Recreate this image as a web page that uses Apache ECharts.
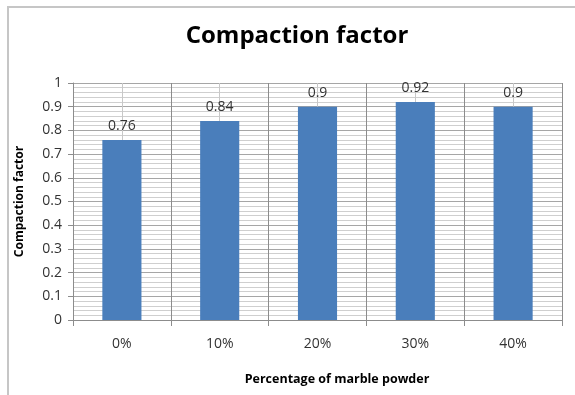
<!DOCTYPE html>
<html>
<head>
<meta charset="utf-8">
<script src="https://cdn.jsdelivr.net/npm/echarts@6/dist/echarts.min.js"></script>
<style>
  html, body { margin: 0; padding: 0; background: #ffffff; overflow: hidden; }
  #chart { position: absolute; left: 0; top: 0; width: 575px; height: 395px; }
</style>
</head>
<body>
<div id="chart"></div>
<script>
// Compaction factor for each marble powder replacement level
const categories = ['0%', '10%', '20%', '30%', '40%'];
const compactionFactor = [0.76, 0.84, 0.9, 0.92, 0.9];
const yTicks = [0, 0.1, 0.2, 0.3, 0.4, 0.5, 0.6, 0.7, 0.8, 0.9, 1];

const FONT = '"Open Sans", "Liberation Sans", sans-serif';

const chart = echarts.init(document.getElementById('chart'), null, { renderer: 'canvas' });

chart.setOption({
  animation: false,
  // chart-area border along the top and left edges
  graphic: [
    { type: 'polyline', silent: true, z: -1,
      shape: { points: [[8, 400], [8, 7], [580, 7]] },
      style: { stroke: '#c6c6c6', lineWidth: 2, fill: null } }
  ],
  title: [
    {
      text: 'Compaction factor',
      left: 292, top: 19, textAlign: 'center',
      textStyle: { fontFamily: FONT, fontSize: 24, fontWeight: 'bold', color: '#000' }
    },
    {
      text: 'Percentage of marble powder',
      left: 332, top: 368, textAlign: 'center',
      textStyle: { fontFamily: FONT, fontSize: 12.5, fontWeight: 'bold', color: '#000' }
    }
  ],
  grid: { left: 73, right: 13, top: 83, bottom: 75, containLabel: false },
  xAxis: [
    {
      type: 'category',
      data: categories,
      axisLine: { show: true, lineStyle: { color: '#8c8c8c', width: 1 } },
      axisTick: { show: true, length: 6, lineStyle: { color: '#8c8c8c' } },
      axisLabel: { fontFamily: FONT, fontSize: 14, color: '#333', margin: 17 },
      splitLine: { show: true, lineStyle: { color: '#8c8c8c', width: 1 } }
    },
    {
      // helper axis: thin lines through the centre of each category
      type: 'value',
      min: 0, max: 5, interval: 1,
      show: true,
      axisLine: { show: false }, axisTick: { show: false }, axisLabel: { show: false },
      splitLine: { show: false },
      minorTick: { show: false, splitNumber: 2 },
      minorSplitLine: { show: true, lineStyle: { color: '#c8c8c8', width: 1 } }
    }
  ],
  yAxis: {
    type: 'value',
    min: 0, max: 1, interval: 0.1,
    name: 'Compaction factor',
    nameLocation: 'middle',
    nameGap: 47,
    nameTextStyle: { fontFamily: FONT, fontSize: 12, fontWeight: 'bold', color: '#000' },
    axisLine: { show: true, lineStyle: { color: '#8c8c8c', width: 1 } },
    axisTick: { show: true, length: 5, lineStyle: { color: '#8c8c8c' } },
    axisLabel: {
      fontFamily: FONT, fontSize: 14, color: '#333', margin: 11,
      formatter: v => {
        const t = yTicks.find(x => Math.abs(x - v) < 1e-9);
        return t === undefined ? '' : String(t);
      }
    },
    splitLine: { show: true, lineStyle: { color: '#a6a6a6', width: 1 } },
    minorTick: { show: false, splitNumber: 5 },
    minorSplitLine: { show: true, lineStyle: { color: '#cfcfcf', width: 1 } }
  },
  series: [
    {
      type: 'bar',
      xAxisIndex: 0,
      data: compactionFactor,
      barWidth: '40%',
      itemStyle: { color: '#4a7ebb' },
      label: {
        show: true, position: 'top', distance: 7,
        fontFamily: FONT, fontSize: 14, color: '#333'
      }
    }
  ]
});
</script>
</body>
</html>
